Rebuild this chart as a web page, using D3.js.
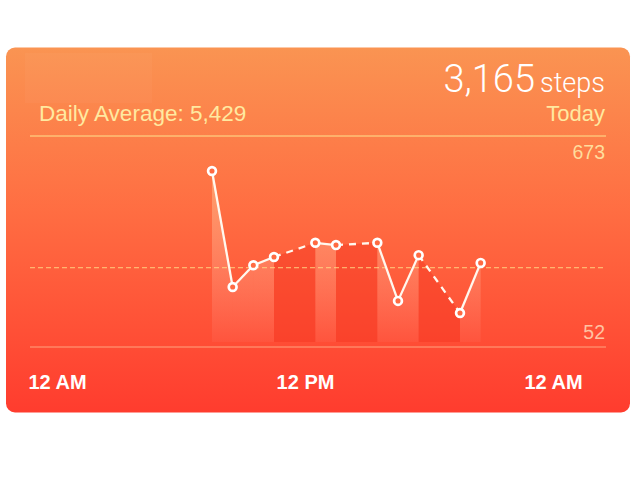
<!DOCTYPE html>
<html>
<head>
<meta charset="utf-8">
<script src="https://cdn.jsdelivr.net/npm/d3@7"></script>
<style>
  html, body { margin: 0; padding: 0; background: #fff; }
  svg { display: block; }
</style>
</head>
<body>
<div id="chart"></div>
<script>
const hours = [7, 8, 9, 10, 12, 13, 15, 16, 17, 19, 20];
const steps = [673, 166, 261, 297, 359, 349, 359, 105, 305, 52, 271];
const hourlyAverage = 250;
const tickHours = [0, 12, 24];
const tickLabels = ["12 AM", "12 PM", "12 AM"];
const totalSteps = "3,165";
const dailyAverage = "Daily Average: 5,429";

const width = 640;
const height = 480;
const card = { x: 6, y: 47.5, w: 624, h: 365 };
const plot = { left: 30, right: 606, top: 136, bottom: 347 };

const data = hours.map((h, i) => ({ hour: h, steps: steps[i] }));

const svg = d3
  .select("#chart")
  .append("svg")
  .attr("width", width)
  .attr("height", height);

const defs = svg.append("defs");

// card background
const bg = defs
  .append("linearGradient")
  .attr("id", "card-gradient")
  .attr("x1", "0%")
  .attr("y1", "0%")
  .attr("x2", "0%")
  .attr("y2", "100%");
bg.append("stop").attr("offset", "0%").style("stop-color", "#fa9452");
bg.append("stop").attr("offset", "45%").style("stop-color", "#ff6d42");
bg.append("stop").attr("offset", "100%").style("stop-color", "#ff3c2e");

// light fill under solid runs
const lg = defs
  .append("linearGradient")
  .attr("id", "light-gradient")
  .attr("gradientUnits", "userSpaceOnUse")
  .attr("x1", 0)
  .attr("y1", 171)
  .attr("x2", 0)
  .attr("y2", 342);
lg.append("stop").attr("offset", "0%").style("stop-color", "#ffd9a0").style("stop-opacity", 0.4);
lg.append("stop").attr("offset", "100%").style("stop-color", "#ffffff").style("stop-opacity", 0.04);

svg
  .append("rect")
  .attr("x", card.x)
  .attr("y", card.y)
  .attr("width", card.w)
  .attr("height", card.h)
  .attr("rx", 9)
  .style("fill", "url(#card-gradient)");

// faint patch top left
svg
  .append("rect")
  .attr("x", 25)
  .attr("y", 53)
  .attr("width", 127)
  .attr("height", 50)
  .style("fill", "#fff")
  .style("opacity", 0.03);

const x = d3.scaleLinear().domain([0, 24]).range([57, 553]);
const y = d3
  .scaleLinear()
  .domain([d3.min(steps), d3.max(steps)])
  .range([313, 171]);

const px = (d) => x(d.hour + 0.5);
const py = (d) => y(d.steps);

// segments between readings, dashed where hours are missing
const segments = d3.pairs(data).map(([a, b]) => ({
  a,
  b,
  gap: b.hour - a.hour > 1,
}));

const area = d3
  .area()
  .x(px)
  .y0(342)
  .y1(py);

svg
  .append("g")
  .selectAll("path")
  .data(segments)
  .join("path")
  .attr("d", (s) => area([s.a, s.b]))
  .style("fill", (s) => (s.gap ? "#f2311f" : "url(#light-gradient)"))
  .style("opacity", (s) => (s.gap ? 0.4 : 1));

// header
svg
  .append("text")
  .attr("x", 39)
  .attr("y", 121)
  .attr("fill", "#ffe9a0")
  .style("font", "22.5px 'Liberation Sans', Arial, sans-serif")
  .text(dailyAverage);

const big = svg
  .append("text")
  .attr("x", 605)
  .attr("y", 91.5)
  .attr("text-anchor", "end")
  .attr("fill", "#fff");
big
  .append("tspan")
  .style("font", "300 38px Roboto, 'Liberation Sans', sans-serif")
  .text(totalSteps);
big
  .append("tspan")
  .attr("dx", 5)
  .style("font", "300 27px Roboto, 'Liberation Sans', sans-serif")
  .text("steps");

svg
  .append("text")
  .attr("x", 605)
  .attr("y", 121)
  .attr("text-anchor", "end")
  .attr("fill", "#ffe9a0")
  .style("font", "22px 'Liberation Sans', Arial, sans-serif")
  .text("Today");

// top and bottom rules
svg
  .append("line")
  .attr("x1", plot.left)
  .attr("x2", plot.right)
  .attr("y1", plot.top)
  .attr("y2", plot.top)
  .attr("stroke", "#ffe38c")
  .attr("stroke-width", 1);

svg
  .append("line")
  .attr("x1", plot.left)
  .attr("x2", plot.right)
  .attr("y1", plot.bottom)
  .attr("y2", plot.bottom)
  .attr("stroke", "#ffc9a0")
  .attr("stroke-opacity", 0.7)
  .attr("stroke-width", 1);

// max / min labels
svg
  .append("text")
  .attr("x", 605)
  .attr("y", 158.5)
  .attr("text-anchor", "end")
  .attr("fill", "#ffdc9c")
  .style("font", "19.5px 'Liberation Sans', Arial, sans-serif")
  .text(d3.max(steps));

svg
  .append("text")
  .attr("x", 605)
  .attr("y", 338.5)
  .attr("text-anchor", "end")
  .attr("fill", "#ffc2a2")
  .style("font", "19.5px 'Liberation Sans', Arial, sans-serif")
  .text(d3.min(steps));

// average line
svg
  .append("line")
  .attr("x1", plot.left)
  .attr("x2", plot.right)
  .attr("y1", y(hourlyAverage))
  .attr("y2", y(hourlyAverage))
  .attr("stroke", "#ffe08a")
  .attr("stroke-opacity", 0.85)
  .attr("stroke-width", 1)
  .attr("stroke-dasharray", "5,3");

// line segments
svg
  .append("g")
  .selectAll("line")
  .data(segments)
  .join("line")
  .attr("x1", (s) => px(s.a))
  .attr("y1", (s) => py(s.a))
  .attr("x2", (s) => px(s.b))
  .attr("y2", (s) => py(s.b))
  .attr("stroke", "#fff8ee")
  .attr("stroke-width", 2.3)
  .attr("stroke-dasharray", (s) => (s.gap ? "7,6" : null));

// points
svg
  .append("g")
  .selectAll("circle")
  .data(data)
  .join("circle")
  .attr("cx", px)
  .attr("cy", py)
  .attr("r", 3.9)
  .attr("fill", "#ff6a42")
  .attr("stroke", "#fff")
  .attr("stroke-width", 2.7);

// x axis
const xAxis = svg
  .append("g")
  .attr("transform", "translate(0, 389)")
  .call(
    d3
      .axisBottom(x)
      .tickValues(tickHours)
      .tickSize(0)
      .tickPadding(0)
      .tickFormat((d, i) => tickLabels[i])
  );

xAxis.select(".domain").remove();
xAxis
  .selectAll("text")
  .attr("dy", 0)
  .attr("fill", "#fff")
  .style("font", "bold 20px 'Liberation Sans', Arial, sans-serif");
</script>
</body>
</html>
